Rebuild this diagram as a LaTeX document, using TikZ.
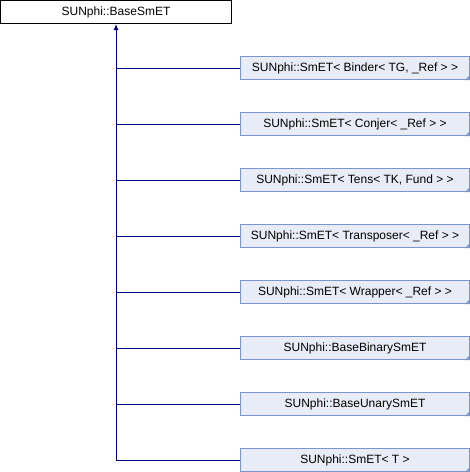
\documentclass[tikz,border=0pt]{standalone}
\usepackage{fontspec}
\setmainfont{Liberation Sans}
\usetikzlibrary{arrows.meta}
\definecolor{edgeblue}{RGB}{0,0,140}
\definecolor{boxfill}{RGB}{232,236,246}
\definecolor{boxline}{RGB}{122,150,204}
\begin{document}
\begin{tikzpicture}[x=1pt, y=-1pt, >={Latex[length=6pt,width=5pt]},
  font=\fontsize{12}{14}\selectfont,
  baseclass/.style={draw=black, fill=white, line width=1pt, minimum width=231pt, minimum height=23pt, inner sep=0pt},
  subclass/.style={draw=boxline, fill=boxfill, line width=1pt, minimum width=229pt, minimum height=23pt, inner sep=0pt},
  link/.style={draw=edgeblue, line width=1pt}]
\useasboundingbox (0,0) rectangle (470,472);
\node[baseclass] (base) at (116,12) {SUNphi::BaseSmET};
\coordinate (trunk) at (116,460);
\draw[link,<-] (base.south) -- (trunk);
\foreach \t [count=\i] in {{SUNphi::SmET< Binder< TG, \_Ref > >},
    {SUNphi::SmET< Conjer< \_Ref > >},
    {SUNphi::SmET< Tens< TK, Fund > >},
    {SUNphi::SmET< Transposer< \_Ref > >},
    {SUNphi::SmET< Wrapper< \_Ref > >},
    {SUNphi::BaseBinarySmET},
    {SUNphi::BaseUnarySmET},
    {SUNphi::SmET< T >}}
{
  \node[subclass] (sub\i) at (355,{68+56*(\i-1)}) {\t};
  \fill[boxline] (sub\i.south east) -- ++(-5,0) -- ++(5,-5) -- cycle;
  \draw[link] (base.south |- sub\i.west) -- (sub\i.west);
}
\end{tikzpicture}
\end{document}
